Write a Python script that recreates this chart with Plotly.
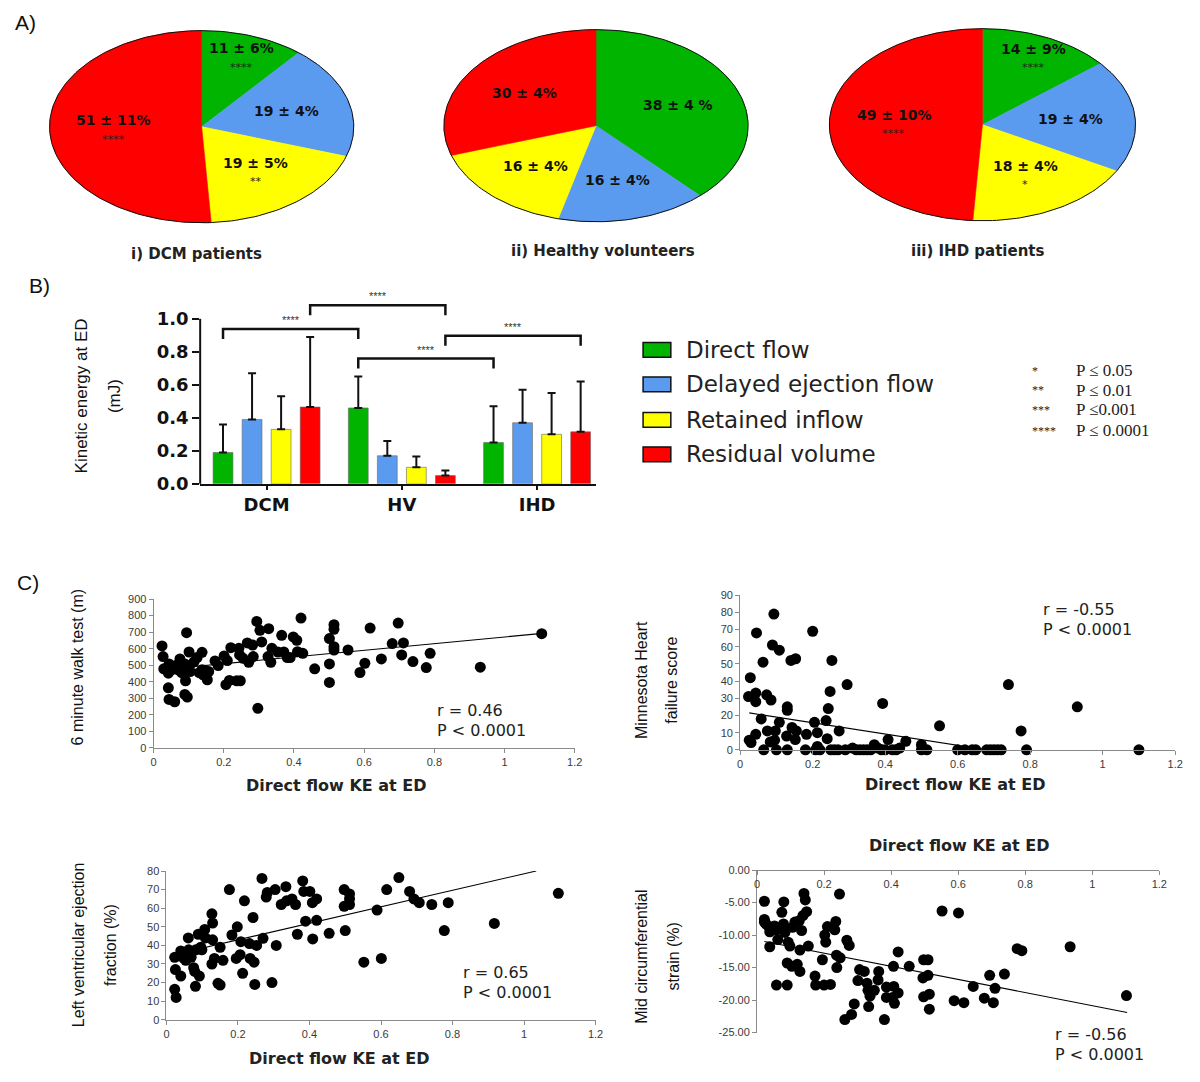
import numpy as np
import plotly.graph_objects as go

# ---------------- DATA ----------------
flow_types = ["Direct flow", "Delayed ejection flow", "Retained inflow", "Residual volume"]

# A) pie charts (percent of EDV)
pie_titles = ["i) DCM patients", "ii) Healthy volunteers", "iii) IHD patients"]
pie_dcm = [11, 19, 19, 51]
pie_hv = [38, 16, 16, 30]
pie_ihd = [14, 19, 18, 49]
pie_dcm_labels = ["11 ± 6%", "19 ± 4%", "19 ± 5%", "51 ± 11%"]
pie_hv_labels = ["38 ± 4 %", "16 ± 4%", "16 ± 4%", "30 ± 4%"]
pie_ihd_labels = ["14 ± 9%", "19 ± 4%", "18 ± 4%", "49 ± 10%"]
pie_dcm_sig = ["****", "", "**", "****"]
pie_hv_sig = ["", "", "", ""]
pie_ihd_sig = ["****", "", "*", "****"]

# B) kinetic energy at ED (mJ), mean and SD
bar_groups = ["DCM", "HV", "IHD"]
ke_direct = [0.19, 0.46, 0.25]
ke_delayed = [0.39, 0.17, 0.37]
ke_retained = [0.33, 0.10, 0.30]
ke_residual = [0.465, 0.05, 0.315]
sd_direct = [0.17, 0.19, 0.22]
sd_delayed = [0.28, 0.09, 0.20]
sd_retained = [0.20, 0.065, 0.25]
sd_residual = [0.425, 0.03, 0.305]
# comparisons: (component index, group a, group b, label)
comparisons = [(0, 0, 1, "****"), (3, 0, 1, "****"), (0, 1, 2, "****"), (3, 1, 2, "****")]
p_legend_stars = ["*", "**", "***", "****"]
p_legend_text = ["P ≤ 0.05", "P ≤ 0.01", "P ≤0.001", "P ≤ 0.0001"]

# C) correlations with direct flow KE at ED
ke_walk = [0.024, 0.027, 0.029, 0.042, 0.044, 0.042, 0.044, 0.060, 0.075, 0.070,
           0.089, 0.094, 0.091, 0.089, 0.096, 0.101, 0.102, 0.104, 0.124, 0.138,
           0.138, 0.141, 0.153, 0.157, 0.175, 0.184, 0.201, 0.206, 0.210, 0.216,
           0.220, 0.237, 0.243, 0.245, 0.247, 0.255, 0.271, 0.267, 0.284, 0.282,
           0.294, 0.297, 0.303, 0.308, 0.328, 0.326, 0.334, 0.337, 0.354, 0.365,
           0.371, 0.381, 0.389, 0.398, 0.408, 0.410, 0.420, 0.425, 0.459, 0.501,
           0.501, 0.501, 0.514, 0.514, 0.514, 0.514, 0.554, 0.588, 0.602, 0.617,
           0.649, 0.680, 0.697, 0.707, 0.712, 0.739, 0.777, 0.788, 0.931, 1.106,
           0.050, 0.065, 0.080, 0.115, 0.130, 0.145]
walk_test = [617, 552, 478, 452, 508, 363, 293, 279, 538, 472,
             508, 697, 406, 323, 307, 580, 496, 462, 546, 578,
             472, 442, 412, 462, 526, 498, 556, 382, 528, 408,
             606, 406, 602, 562, 406, 542, 518, 635, 552, 622,
             765, 239, 711, 641, 721, 552, 518, 602, 580, 681,
             580, 546, 546, 671, 651, 582, 785, 572, 478, 661,
             508, 396, 745, 717, 612, 592, 592, 456, 512, 725,
             538, 631, 755, 562, 635, 522, 486, 572, 488, 691,
             470, 500, 455, 520, 455, 470]
walk_trend_x = [0.02, 1.10]
walk_trend_y = [473, 691]

ke_mlhf = [0.028, 0.023, 0.025, 0.030, 0.043, 0.043, 0.045, 0.043, 0.063, 0.058,
           0.065, 0.073, 0.085, 0.075, 0.083, 0.089, 0.093, 0.097, 0.095, 0.100,
           0.108, 0.108, 0.130, 0.130, 0.128, 0.130, 0.140, 0.153, 0.143, 0.152,
           0.155, 0.183, 0.180, 0.200, 0.205, 0.213, 0.208, 0.213, 0.237, 0.240,
           0.243, 0.248, 0.253, 0.273, 0.295, 0.220, 0.250, 0.270, 0.290, 0.310,
           0.330, 0.350, 0.360, 0.380, 0.400, 0.420, 0.440, 0.370, 0.393, 0.408,
           0.457, 0.500, 0.500, 0.515, 0.550, 0.600, 0.620, 0.640, 0.650, 0.680,
           0.700, 0.720, 0.740, 0.775, 0.790, 0.930, 1.100,
           0.260, 0.320, 0.340, 0.390, 0.430, 0.690, 0.710]
mlhf_score = [42, 31, 5.6, 4.2, 33, 28, 68, 9, 51, 18,
              0, 32, 29, 11, 4.6, 61, 79, 11, 5.6, 0,
              58, 16, 23, 25, 8, 0, 52, 53, 13, 6,
              11, 9, 0, 69, 16, 10, 0, 2, 17, 6.5,
              24, 34, 52, 11, 38, 0, 0, 0, 0, 1,
              0, 0, 0, 1, 0, 0, 1, 3, 27, 6,
              5, 3, 0, 0, 14, 0, 0, 0, 0, 0,
              0, 0, 38, 11, 0, 25, 0,
              0, 0, 0, 0, 0, 0, 0]
mlhf_trend_x = [0.025, 0.68]
mlhf_trend_y = [21.5, 0]

ke_lvef = [0.023, 0.027, 0.025, 0.023, 0.040, 0.040, 0.049, 0.054, 0.061, 0.062,
           0.069, 0.076, 0.079, 0.081, 0.082, 0.092, 0.089, 0.096, 0.099, 0.107,
           0.109, 0.127, 0.129, 0.129, 0.127, 0.134, 0.144, 0.150, 0.150, 0.158,
           0.176, 0.183, 0.198, 0.195, 0.206, 0.208, 0.213, 0.218, 0.232, 0.234,
           0.242, 0.245, 0.247, 0.252, 0.267, 0.270, 0.279, 0.282, 0.295, 0.304,
           0.307, 0.321, 0.334, 0.336, 0.351, 0.361, 0.366, 0.381, 0.384, 0.389,
           0.401, 0.408, 0.409, 0.420, 0.420, 0.455, 0.497, 0.500, 0.497, 0.512,
           0.512, 0.512, 0.552, 0.589, 0.601, 0.616, 0.650, 0.680, 0.692, 0.707,
           0.742, 0.777, 0.788, 0.917, 1.096]
lvef = [16.4, 12, 27, 33.6, 23.5, 37, 33, 32, 44, 37.6,
        33.6, 28, 26, 18, 37.6, 23.5, 46, 39, 37.6, 48.6,
        44, 57, 52, 43, 30, 33, 19.6, 18.7, 39, 32,
        70, 45.6, 50, 33, 35, 42, 25, 64, 41, 33,
        55, 31, 19, 40, 76, 43.8, 66, 68.5, 20, 70,
        40, 62, 71.6, 64, 65, 62, 46, 74.7, 69, 53,
        69, 63, 43.5, 65, 53.5, 46.5, 70, 48, 61, 67.7,
        62, 65, 31, 59, 33, 70, 76.5, 69, 65, 63,
        62, 48, 63, 51.8, 68]
lvef_trend_x = [0.02, 1.034]
lvef_trend_y = [35, 80]

ke_strain = [0.022, 0.022, 0.022, 0.027, 0.036, 0.038, 0.038, 0.052, 0.057, 0.062,
             0.058, 0.074, 0.079, 0.080, 0.083, 0.087, 0.090, 0.090, 0.093, 0.098,
             0.104, 0.106, 0.113, 0.120, 0.126, 0.128, 0.128, 0.133, 0.137, 0.140,
             0.144, 0.148, 0.153, 0.173, 0.175, 0.195, 0.200, 0.202, 0.205, 0.210,
             0.219, 0.232, 0.235, 0.237, 0.238, 0.246, 0.248, 0.268, 0.275, 0.262,
             0.282, 0.290, 0.301, 0.306, 0.320, 0.328, 0.331, 0.333, 0.337, 0.350,
             0.363, 0.361, 0.380, 0.386, 0.386, 0.404, 0.408, 0.407, 0.410, 0.421,
             0.421, 0.454, 0.495, 0.497, 0.497, 0.510, 0.510, 0.514, 0.514, 0.552,
             0.588, 0.601, 0.617, 0.645, 0.678, 0.694, 0.705, 0.710, 0.738, 0.776,
             0.790, 0.934, 1.102]
mid_strain = [-4.8, -7.6, -8.0, -8.3, -8.8, -9.5, -11.8, -8.6, -9.2, -10.7,
              -17.7, -6.5, -8.3, -4.9, -9.6, -9.1, -14.3, -17.7, -11.1, -11.7,
              -14.8, -8.8, -8.0, -14.5, -7.8, -12.3, -15.6, -9.3, -7.0, -3.6,
              -4.6, -6.4, -11.7, -16.3, -17.7, -13.8, -17.7, -10.0, -11.1, -8.7,
              -17.6, -9.2, -7.9, -13.1, -15.0, -3.7, -13.5, -10.8, -11.6, -23.0,
              -22.2, -20.6, -17.0, -15.3, -15.6, -17.4, -18.5, -21.0, -19.4, -18.5,
              -15.6, -16.9, -23.0, -18.0, -19.6, -19.6, -17.9, -14.8, -20.5, -18.9,
              -12.6, -14.8, -16.6, -19.5, -13.8, -13.8, -16.2, -19.1, -21.4, -6.3,
              -20.1, -6.6, -20.4, -17.9, -19.7, -16.2, -20.4, -18.2, -16.0, -12.1,
              -12.4, -11.8, -19.3]
strain_trend_x = [0.022, 1.104]
strain_trend_y = [-11.0, -21.9]

corr_r = ["r = 0.46", "r = -0.55", "r = 0.65", "r = -0.56"]
corr_p = ["P < 0.0001", "P < 0.0001", "P < 0.0001", "P < 0.0001"]

# ---------------- STYLE / LAYOUT ----------------
W, H = 1200, 1082
colors = ["#00b400", "#5a9bf0", "#ffff00", "#ff0000"]
BOLD = "DejaVu Sans"
SANS = "Liberation Sans"


def dx(a, b):
    return [a / W, b / W]


def dy(top, bottom):
    return [1 - bottom / H, 1 - top / H]


def px(x):
    return x / W


def py(y):
    return 1 - y / H


def note(x, y, text, font, xanchor="center", yanchor="middle", **kw):
    d = dict(x=px(x), y=py(y), xref="paper", yref="paper", text=text, showarrow=False,
             xanchor=xanchor, yanchor=yanchor, font=font)
    d.update(kw)
    return d


fig = go.Figure()
ann = []
shapes = []
layout_axes = {}

# ---- A) elliptical pies ----
pie_sets = [(pie_dcm, pie_dcm_labels, pie_dcm_sig),
            (pie_hv, pie_hv_labels, pie_hv_sig),
            (pie_ihd, pie_ihd_labels, pie_ihd_sig)]
pie_boxes = [(200.5, 122.5, 153.5, 97.5), (598.5, 121.5, 153.5, 97.5), (988.5, 120.5, 154.5, 97.5)]
title_pos = [(195, 252), (606, 249), (984, 249)]
PAD = 1.03
for i, (vals, labels, sigs) in enumerate(pie_sets):
    n = "" if i == 0 else str(i + 1)
    xr, yr = "x" + n, "y" + n
    cx, cy, a, b = pie_boxes[i]
    layout_axes["xaxis" + n] = dict(domain=dx(cx - a * PAD, cx + a * PAD), range=[-PAD, PAD],
                                    visible=False, fixedrange=True)
    layout_axes["yaxis" + n] = dict(domain=dy(cy - b * PAD, cy + b * PAD), range=[-PAD, PAD],
                                    visible=False, fixedrange=True)
    total = float(sum(vals))
    cum = 0.0
    for v, col, lab, sig in zip(vals, colors, labels, sigs):
        a0, a1 = cum / total, (cum + v) / total
        t = np.linspace(a0, a1, 90) * 2 * np.pi
        xs = np.concatenate([[0], np.sin(t), [0]])
        ys = np.concatenate([[0], np.cos(t), [0]])
        fig.add_trace(go.Scatter(x=xs, y=ys, mode="lines", fill="toself", fillcolor=col,
                                 line=dict(color=col, width=0.6), xaxis=xr, yaxis=yr,
                                 hoverinfo="skip", showlegend=False))
        mid = (a0 + a1) / 2 * 2 * np.pi
        r = 0.78 if v < 15 else 0.58
        lx, ly = r * np.sin(mid), r * np.cos(mid)
        ann.append(dict(x=lx, y=ly, xref=xr, yref=yr, text=lab, showarrow=False,
                        xanchor="center", yanchor="middle", yshift=8 if sig else 0,
                        font=dict(family=BOLD, size=14, color="#111", weight="bold")))
        if sig:
            ann.append(dict(x=lx, y=ly, xref=xr, yref=yr, text=sig, showarrow=False,
                            xanchor="center", yanchor="middle", yshift=-11,
                            font=dict(family=BOLD, size=11, color="#222")))
        cum += v
    t = np.linspace(0, 2 * np.pi, 240)
    fig.add_trace(go.Scatter(x=np.sin(t), y=np.cos(t), mode="lines",
                             line=dict(color="#111", width=1), xaxis=xr, yaxis=yr,
                             hoverinfo="skip", showlegend=False))
    tx, ty = title_pos[i]
    ann.append(note(tx, ty, pie_titles[i], dict(family=BOLD, size=15, color="#222", weight="bold")))

# panel letters
for letter, (lx, ly) in zip(["A)", "B)", "C)"], [(10, 17), (24, 284), (12, 585)]):
    ann.append(note(lx, ly, letter, dict(family=SANS, size=21, color="#111"), xanchor="left"))

# ---- B) grouped bar chart ----
STEP = 0.2147
BW = 0.1465
bar_means = [ke_direct, ke_delayed, ke_retained, ke_residual]
bar_sds = [sd_direct, sd_delayed, sd_retained, sd_residual]
for k in range(4):
    xs = [g + (k - 1.5) * STEP for g in range(len(bar_groups))]
    fig.add_trace(go.Bar(x=xs, y=bar_means[k], width=BW, name=flow_types[k],
                         marker=dict(color=colors[k], line=dict(color="#666", width=0.6)),
                         error_y=dict(type="data", array=bar_sds[k], arrayminus=[0] * 3,
                                      symmetric=False, color="#111", thickness=2, width=4),
                         xaxis="x4", yaxis="y4", showlegend=False, hoverinfo="skip"))
Y4MAX = 1.12
b_dom_y = dy(485 - Y4MAX * 167.5, 485)
layout_axes["xaxis4"] = dict(domain=dx(199, 598), range=[-0.491, 2.432], anchor="y4",
                             tickvals=list(range(len(bar_groups))), ticktext=bar_groups,
                             showline=True, linecolor="#111", linewidth=2, ticks="outside",
                             ticklen=4, tickwidth=2, tickcolor="#111",
                             showgrid=False, zeroline=False,
                             tickfont=dict(family=BOLD, size=18, color="#111", weight="bold"))
layout_axes["yaxis4"] = dict(domain=b_dom_y, range=[0, Y4MAX], anchor="x4",
                             tickvals=[0, 0.2, 0.4, 0.6, 0.8, 1.0], tickformat=".1f",
                             ticks="outside", ticklen=7, tickwidth=2, tickcolor="#111",
                             showline=False, showgrid=False, zeroline=False,
                             tickfont=dict(family=BOLD, size=18, color="#111", weight="bold"))
# y axis line up to 1.0
y_top_paper = b_dom_y[0] + (1.0 / Y4MAX) * (b_dom_y[1] - b_dom_y[0])
shapes.append(dict(type="line", xref="paper", yref="paper", x0=px(199), x1=px(199),
                   y0=b_dom_y[0], y1=y_top_paper, line=dict(color="#111", width=2)))
# significance brackets
bracket_levels = [0.938, 1.082, 0.759, 0.897]
DROP = 0.06
for (k, ga, gb, lab), lev in zip(comparisons, bracket_levels):
    xa = ga + (k - 1.5) * STEP
    xb = gb + (k - 1.5) * STEP
    shapes.append(dict(type="path", xref="x4", yref="y4",
                       path=f"M {xa},{lev - DROP} L {xa},{lev} L {xb},{lev} L {xb},{lev - DROP}",
                       line=dict(color="#111", width=2.5)))
    ann.append(dict(x=(xa + xb) / 2, y=lev, xref="x4", yref="y4", text=lab, showarrow=False,
                    xanchor="center", yanchor="bottom", yshift=1,
                    font=dict(family=SANS, size=11, color="#333")))
# bar y-title
ann.append(note(79, 396, "Kinetic energy at ED", dict(family=SANS, size=17, color="#111"), textangle=-90))
ann.append(note(112, 396, "(mJ)", dict(family=SANS, size=17, color="#111"), textangle=-90))

# legend (boxes + labels)
leg_y = [349, 384, 420, 455]
for k in range(4):
    shapes.append(dict(type="rect", xref="paper", yref="paper",
                       x0=px(646), x1=px(674), y0=py(leg_y[k] + 7.5), y1=py(leg_y[k] - 7.5),
                       fillcolor=colors[k], line=dict(color="#111", width=1.5)))
    ann.append(note(687, leg_y[k], flow_types[k], dict(family=BOLD, size=23, color="#222"),
                    xanchor="left"))
# p-value key
p_y = [370, 390, 410, 431]
for s, t_, yy in zip(p_legend_stars, p_legend_text, p_y):
    ann.append(note(1037, yy, s, dict(family="Liberation Serif", size=12, color="#222"), xanchor="left"))
    ann.append(note(1081, yy, t_, dict(family="Liberation Serif", size=17, color="#222"), xanchor="left"))

# ---- C) scatter plots ----
scat = [
    dict(x=ke_walk, y=walk_test, tx=walk_trend_x, ty=walk_trend_y, xd=(152, 577), yd=(602, 753),
         yr=[0, 900], dt=100, ytitle=["6 minute walk test (m)"], ytx=[75], yty=671,
         xt=(337, 791), rp=(436, 715)),
    dict(x=ke_mlhf, y=mlhf_score, tx=mlhf_trend_x, ty=mlhf_trend_y, xd=(744, 1183), yd=(598, 755),
         yr=[0, 90], dt=10, ytitle=["Minnesota Heart", "failure score"], ytx=[645, 675], yty=684,
         xt=(961, 790), rp=(1048, 613)),
    dict(x=ke_lvef, y=lvef, tx=lvef_trend_x, ty=lvef_trend_y, xd=(165, 598), yd=(878, 1029),
         yr=[0, 80], dt=10, ytitle=["Left ventricular ejection", "fraction (%)"], ytx=[77, 109],
         yty=953, xt=(340, 1068), rp=(462, 981)),
    dict(x=ke_strain, y=mid_strain, tx=strain_trend_x, ty=strain_trend_y, xd=(761, 1167),
         yd=(877, 1042), yr=[-25, 0], dt=5, ytitle=["Mid circumferential", "strain (%)"],
         ytx=[645, 677], yty=965, xt=(965, 852), rp=(1060, 1044)),
]
tickfont = dict(family=SANS, size=11, color="#3a3a3a")
for j, s in enumerate(scat):
    n = str(5 + j)
    fig.add_trace(go.Scatter(x=s["x"], y=s["y"], mode="markers",
                             marker=dict(color="#000", size=11, line=dict(width=0)),
                             cliponaxis=False, xaxis="x" + n, yaxis="y" + n,
                             showlegend=False, hoverinfo="skip"))
    fig.add_trace(go.Scatter(x=s["tx"], y=s["ty"], mode="lines",
                             line=dict(color="#000", width=1.1),
                             xaxis="x" + n, yaxis="y" + n, showlegend=False, hoverinfo="skip"))
    xa = dict(domain=dx(*s["xd"]), range=[0, 1.2], tickvals=[0, 0.2, 0.4, 0.6, 0.8, 1.0, 1.2],
              ticktext=["0", "0.2", "0.4", "0.6", "0.8", "1", "1.2"],
              anchor="y" + n, showline=True, linecolor="#8a8a8a", linewidth=1, ticks="outside",
              ticklen=4, tickcolor="#8a8a8a", showgrid=False, zeroline=False, tickfont=tickfont)
    yvals = list(np.arange(s["yr"][0], s["yr"][1] + 0.001, s["dt"]))
    ydom = dy(*s["yd"])
    if j == 3:
        ytext = [f"{v:.2f}" for v in yvals]
        xa.update(anchor="free", position=ydom[1], side="bottom")
    else:
        ytext = [f"{v:g}" for v in yvals]
    ya = dict(domain=ydom, range=s["yr"], tickvals=yvals, ticktext=ytext,
              anchor="x" + n, showline=True, linecolor="#8a8a8a", linewidth=1, ticks="outside",
              ticklen=4, tickcolor="#8a8a8a", showgrid=False, zeroline=False, tickfont=tickfont)
    layout_axes["xaxis" + n] = xa
    layout_axes["yaxis" + n] = ya
    for lt, lx in zip(s["ytitle"], s["ytx"]):
        ann.append(note(lx, s["yty"], lt, dict(family=SANS, size=16, color="#111"), textangle=-90))
    ann.append(note(s["xt"][0], s["xt"][1], "Direct flow KE at ED",
                    dict(family=BOLD, size=16, color="#222", weight="bold")))
    ann.append(note(s["rp"][0], s["rp"][1], corr_r[j], dict(family=BOLD, size=16, color="#222"),
                    xanchor="left"))
    ann.append(note(s["rp"][0], s["rp"][1] + 20, corr_p[j], dict(family=BOLD, size=16, color="#222"),
                    xanchor="left"))

fig.update_layout(width=W, height=H, margin=dict(l=0, r=0, t=0, b=0),
                  paper_bgcolor="white", plot_bgcolor="white", showlegend=False,
                  barmode="overlay", annotations=ann, shapes=shapes, **layout_axes)
fig.write_html("out.html", config={"displayModeBar": False},
               post_script="document.body.style.margin='0';document.body.style.overflow='hidden';")
